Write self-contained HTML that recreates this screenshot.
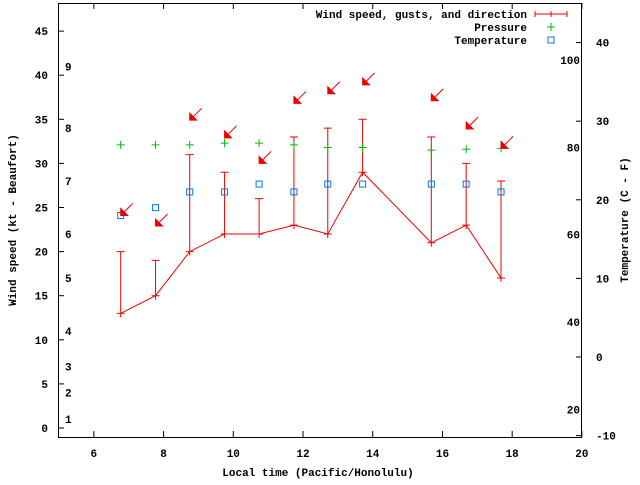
<!DOCTYPE html>
<html><head><meta charset="utf-8"><style>
body{margin:0;background:#fff}
svg text{font-family:"Liberation Mono",monospace;font-size:11px;font-weight:bold;fill:#000}
</style></head><body>
<svg width="640" height="480" viewBox="0 0 640 480">
<rect x="58.5" y="3.5" width="523" height="434" fill="none" stroke="#000"/>
<g id="axes"></g>
<g id="marks"></g>
<text x="16" y="220" transform="rotate(-90 16 220)" text-anchor="middle">Wind speed (kt - Beaufort)</text>
<text x="628" y="220" transform="rotate(-90 628 220)" text-anchor="middle">Temperature (C - F)</text>
<text x="318" y="476" text-anchor="middle">Local time (Pacific/Honolulu)</text>
<g>
<text x="527" y="18" text-anchor="end">Wind speed, gusts, and direction</text>
<path d="M535 14H567M535 11V17M567 11V17M551 11V17" stroke="#e00" fill="none"/>
<text x="527" y="31" text-anchor="end">Pressure</text>
<path d="M547 27H555M551 23V31" stroke="#0b0"/>
<text x="527" y="44" text-anchor="end">Temperature</text>
<rect x="548" y="37" width="6" height="6" fill="none" stroke="#07e"/>
</g>
</svg>
<script>
const times=[6.77,7.77,8.75,9.75,10.74,11.74,12.71,13.71,15.68,16.68,17.68];
const wind=[13,15,20,22,22,23,22,29,21,23,17];
const gust=[20,19,31,29,26,33,34,35,33,30,28];
const pressure=[32.1,32.1,32.1,32.3,32.3,32.1,31.8,31.8,31.5,31.6,31.7];
const tempC=[18,19,21,21,22,21,22,22,22,22,21];
const arrowY=[24.1,22.9,34.9,32.9,30,36.8,37.9,38.9,37.1,33.9,31.7];
const xTicks=[6,8,10,12,14,16,18,20];
const yTicks=[0,5,10,15,20,25,30,35,40,45];
const y2Ticks=[-10,0,10,20,30,40];
const fTicks=[20,40,60,80,100];
const bft=[[1,1],[2,4],[3,7],[4,11],[5,17],[6,22],[7,28],[8,34],[9,41]];
const X=t=>59+(t-5)*34.86;
const Y=v=>428-v*8.82;
const YC=c=>357-c*7.86;
const YF=f=>YC((f-32)*5/9);
const NS='http://www.w3.org/2000/svg';
const ax=document.getElementById('axes'),mk=document.getElementById('marks');
function el(p,tag,a){const e=document.createElementNS(NS,tag);for(const k in a)e.setAttribute(k,a[k]);p.appendChild(e);return e;}
xTicks.forEach(t=>{const x=X(t);
 const l=el(ax,'path',{d:`M${x} 437V431M${x} 3V9`,stroke:'#000'});
 
 
 const tx=el(ax,'text',{x:x,y:457,'text-anchor':'middle'});tx.textContent=t;
 
 });
yTicks.forEach(v=>{const y=Y(v);
 const l=el(ax,'path',{d:`M58 ${y}H64`,stroke:'#000'});
 
 
 const tx=el(ax,'text',{x:48,y:y+4,'text-anchor':'end'});tx.textContent=v;
 
 });
y2Ticks.forEach(v=>{const y=YC(v);
 const l=el(ax,'path',{d:`M582 ${y}H576`,stroke:'#000'});
 
 
 const tx=el(ax,'text',{x:596,y:y+4});tx.textContent=v;
 
 });
fTicks.forEach(v=>{const tx=el(ax,'text',{x:580,y:YF(v)+4,'text-anchor':'end'});tx.textContent=v;
 
 });
bft.forEach(b=>{const tx=el(ax,'text',{x:65,y:Y(b[1])+4});tx.textContent=b[0];
 
 });
const line=el(mk,'polyline',{points:times.map((t,i)=>X(t)+','+Y(wind[i])).join(' '),fill:'none',stroke:'#e00'});


times.forEach((t,i)=>{const x=X(t);
 const g=el(mk,'path',{d:`M${x} ${Y(wind[i])}V${Y(gust[i])}M${x-4} ${Y(gust[i])}H${x+4}M${x-4} ${Y(wind[i])}H${x+4}M${x} ${Y(wind[i])-4}V${Y(wind[i])+4}`,stroke:'#e00',fill:'none'});
 
 
 const py=Y(pressure[i]);
 const p=el(mk,'path',{d:`M${x-4} ${py}H${x+4}M${x} ${py-4}V${py+4}`,stroke:'#0b0'});
 
 
 const ty=YC(tempC[i]);
 const s=el(mk,'rect',{x:x-3,y:ty-3,width:6,height:6,fill:'none',stroke:'#07e'});
 
 
 const ay=Y(arrowY[i]);
 const a=el(mk,'path',{d:`M${x} ${ay}L${x+12} ${ay-12}M${x} ${ay}l0 -7l7 7z`,stroke:'#e00',fill:'#e00'});
 
 });
</script>
</body></html>
